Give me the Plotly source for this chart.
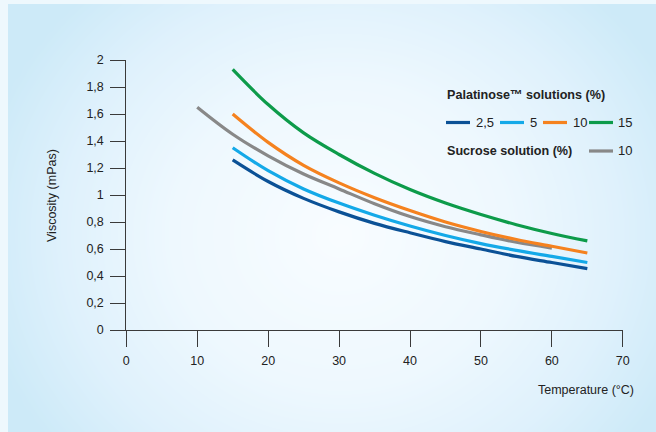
import numpy as np
import plotly.graph_objects as go

# Temperature grid (°C) and viscosity readings (mPas)
temp_palatinose = [15, 20, 25, 30, 35, 40, 45, 50, 55, 60, 65]
visc_pal_2_5 = [1.26, 1.10, 0.975, 0.875, 0.79, 0.72, 0.655, 0.60, 0.545, 0.50, 0.455]
visc_pal_5 = [1.35, 1.18, 1.045, 0.94, 0.85, 0.77, 0.70, 0.64, 0.59, 0.545, 0.50]
visc_pal_10 = [1.60, 1.39, 1.22, 1.09, 0.98, 0.885, 0.80, 0.73, 0.67, 0.62, 0.57]
visc_pal_15 = [1.93, 1.67, 1.46, 1.30, 1.16, 1.04, 0.94, 0.855, 0.78, 0.715, 0.66]

temp_sucrose = [10, 15, 20, 25, 30, 35, 40, 45, 50, 55, 60]
visc_suc_10 = [1.65, 1.45, 1.29, 1.155, 1.045, 0.935, 0.84, 0.765, 0.705, 0.65, 0.607]

x_ticks = [0, 10, 20, 30, 40, 50, 60, 70]
y_ticks = [0, 0.2, 0.4, 0.6, 0.8, 1.0, 1.2, 1.4, 1.6, 1.8, 2.0]
y_tick_text = ["0", "0,2", "0,4", "0,6", "0,8", "1", "1,2", "1,4", "1,6", "1,8", "2"]

W, H = 656, 432
C_DARK = "#0b5196"
C_LIGHT = "#14a9e8"
C_ORANGE = "#f5821f"
C_GREEN = "#0d9b4a"
C_GREY = "#888888"
TXT = "#222222"
FONT = "Liberation Sans, Arial, sans-serif"

fig = go.Figure()

# soft radial backdrop panel
gx = np.linspace(8, W, 60)
gy = np.linspace(4, H, 50)
GX, GY = np.meshgrid(gx, gy)
glow = np.sqrt(((GX - 340) / 320.0) ** 2 + ((GY - 235) / 290.0) ** 2)
fig.add_trace(go.Heatmap(
    x=gx, y=gy, z=np.clip(glow, 0, 1.15), zsmooth="best", showscale=False,
    colorscale=[[0, "#f8fcff"], [0.45, "#eef8fe"], [0.75, "#dff1fc"], [1, "#cdeaf8"]],
    hoverinfo="skip", xaxis="x", yaxis="y",
))

series = [
    (temp_palatinose, visc_pal_2_5, C_DARK, "2,5"),
    (temp_palatinose, visc_pal_5, C_LIGHT, "5"),
    (temp_sucrose, visc_suc_10, C_GREY, "Sucrose 10"),
    (temp_palatinose, visc_pal_10, C_ORANGE, "10"),
    (temp_palatinose, visc_pal_15, C_GREEN, "15"),
]
for tx, vy, col, name in series:
    fig.add_trace(go.Scatter(
        x=tx, y=vy, mode="lines", name=name, showlegend=False,
        line=dict(color=col, width=3.2, shape="spline", smoothing=1.0),
        xaxis="x2", yaxis="y2",
    ))

def px(x):
    return x / W

def py(y):
    return 1 - y / H

axis_common = dict(showgrid=False, zeroline=False, showline=True, linecolor="#3a3a3a",
                   linewidth=1, ticks="outside", tickcolor="#3a3a3a", tickwidth=1,
                   automargin=False, tickfont=dict(family=FONT, size=12.5, color=TXT))

fig.update_layout(
    template="none",
    width=W, height=H, margin=dict(l=0, r=0, t=0, b=0, pad=0, autoexpand=False),
    paper_bgcolor="#eef8fd", plot_bgcolor="rgba(0,0,0,0)",
    xaxis=dict(domain=[px(8), 1], range=[8, W], visible=False, fixedrange=True,
               automargin=False),
    yaxis=dict(domain=[0, py(4)], range=[H, 4], visible=False, fixedrange=True,
               automargin=False),
    xaxis2=dict(domain=[px(126.3), px(622.8)], range=[0, 70], tickvals=x_ticks,
                ticklen=16, ticklabelstandoff=3, anchor="y2", **axis_common),
    yaxis2=dict(domain=[py(330), py(60)], range=[0, 2], tickvals=y_ticks,
                ticktext=y_tick_text, ticklen=15, ticklabelstandoff=4, anchor="x2",
                **axis_common),
    showlegend=False,
)

def note(x, y, text, size, anchor="left", angle=0):
    fig.add_annotation(x=px(x), y=py(y), xref="paper", yref="paper", text=text,
                       xanchor=anchor, yanchor="middle", textangle=angle,
                       showarrow=False, font=dict(family=FONT, size=size, color=TXT))

# axis titles
note(52, 196, "Viscosity (mPas)", 12.5, anchor="center", angle=-90)
note(636, 390, "Temperature (°C)", 12.5, anchor="right")

# key
note(445, 95, "<b>Palatinose™ solutions (%)</b>", 12.6)
note(445, 151, "<b>Sucrose solution (%)</b>", 12.6)

key_items = [
    (446, 474, C_DARK, "2,5", 122.5),
    (500, 528, C_LIGHT, "5", 122.5),
    (543, 571, C_ORANGE, "10", 122.5),
    (589, 616, C_GREEN, "15", 122.5),
    (589, 616, C_GREY, "10", 151),
]
for x0, xt, col, lab, yy in key_items:
    fig.add_shape(type="line", xref="paper", yref="paper", x0=px(x0), x1=px(x0 + 24),
                  y0=py(yy), y1=py(yy), line=dict(color=col, width=3.2))
    note(xt, yy, lab, 13)

fig.write_html("out.html")
